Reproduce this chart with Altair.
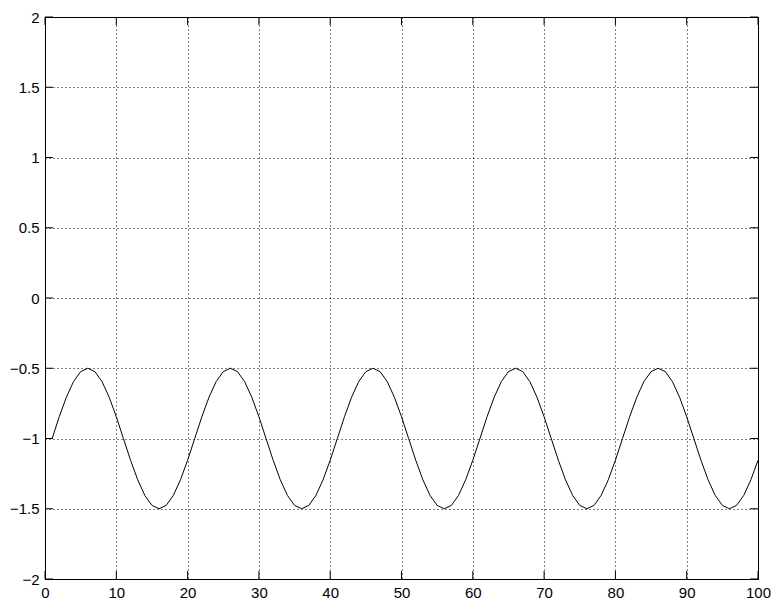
import altair as alt
import pandas as pd

# x positions of the samples
x_vals = list(range(1, 101))

# y values (one period of 20 samples, seen 5 times)
y_vals = (
    [-1.000, -0.845, -0.706, -0.595, -0.524, -0.500, -0.524, -0.595, -0.706, -0.845,
     -1.000, -1.155, -1.294, -1.405, -1.476, -1.500, -1.476, -1.405, -1.294, -1.155]
    + [-1.000, -0.845, -0.706, -0.595, -0.524, -0.500, -0.524, -0.595, -0.706, -0.845,
       -1.000, -1.155, -1.294, -1.405, -1.476, -1.500, -1.476, -1.405, -1.294, -1.155]
    + [-1.000, -0.845, -0.706, -0.595, -0.524, -0.500, -0.524, -0.595, -0.706, -0.845,
       -1.000, -1.155, -1.294, -1.405, -1.476, -1.500, -1.476, -1.405, -1.294, -1.155]
    + [-1.000, -0.845, -0.706, -0.595, -0.524, -0.500, -0.524, -0.595, -0.706, -0.845,
       -1.000, -1.155, -1.294, -1.405, -1.476, -1.500, -1.476, -1.405, -1.294, -1.155]
    + [-1.000, -0.845, -0.706, -0.595, -0.524, -0.500, -0.524, -0.595, -0.706, -0.845,
       -1.000, -1.155, -1.294, -1.405, -1.476, -1.500, -1.476, -1.405, -1.294, -1.155]
)

x_ticks = [0, 10, 20, 30, 40, 50, 60, 70, 80, 90, 100]
y_ticks = [-2, -1.5, -1, -0.5, 0, 0.5, 1, 1.5, 2]

W, H = 713, 562
TL = 8  # inward tick length
FONT = "Liberation Sans"
FS = 15

df = pd.DataFrame({"x": x_vals, "y": y_vals})
xt = pd.DataFrame({"t": x_ticks})
yt = pd.DataFrame({"t": y_ticks})

xscale = alt.Scale(domain=[0, 100], nice=False, zero=False)
yscale = alt.Scale(domain=[-2, 2], nice=False, zero=False)

xaxis = alt.Axis(values=x_ticks, grid=True, gridDash=[1, 3], gridColor="black",
                 gridOpacity=1, gridWidth=1, ticks=False, tickSize=0,
                 domainColor="black", labelColor="black", labelFont=FONT,
                 labelFontSize=FS, labelPadding=6, title=None, labelFlush=False,
                 format="d")
yaxis = alt.Axis(values=y_ticks, grid=True, gridDash=[1, 3], gridColor="black",
                 gridOpacity=1, gridWidth=1, ticks=False, tickSize=0,
                 domainColor="black", labelColor="black", labelFont=FONT,
                 labelFontSize=FS, labelPadding=6, title=None, labelFlush=False,
                 labelExpr="datum.value == 0 ? '0' : replace(format(datum.value, '.2~f'), '-', '\u2212')")

line = alt.Chart(df).mark_line(color="black", strokeWidth=1).encode(
    x=alt.X("x:Q", scale=xscale, axis=xaxis),
    y=alt.Y("y:Q", scale=yscale, axis=yaxis),
)

bottom_ticks = alt.Chart(xt).mark_rule(color="black", strokeWidth=1).encode(
    x=alt.X("t:Q", scale=xscale), y=alt.value(H), y2=alt.value(H - TL))
top_ticks = alt.Chart(xt).mark_rule(color="black", strokeWidth=1).encode(
    x=alt.X("t:Q", scale=xscale), y=alt.value(0), y2=alt.value(TL))
left_ticks = alt.Chart(yt).mark_rule(color="black", strokeWidth=1).encode(
    y=alt.Y("t:Q", scale=yscale), x=alt.value(0), x2=alt.value(TL))
right_ticks = alt.Chart(yt).mark_rule(color="black", strokeWidth=1).encode(
    y=alt.Y("t:Q", scale=yscale), x=alt.value(W), x2=alt.value(W - TL))

chart = alt.layer(line, bottom_ticks, top_ticks, left_ticks, right_ticks).properties(
    width=W, height=H,
    autosize=alt.AutoSizeParams(type="none"),
    padding={"left": 37, "top": 9, "right": 13, "bottom": 20},
    background="white",
).configure_view(stroke="black", strokeWidth=1)

chart.save("out.html", embed_options={"renderer": "svg", "actions": False})
